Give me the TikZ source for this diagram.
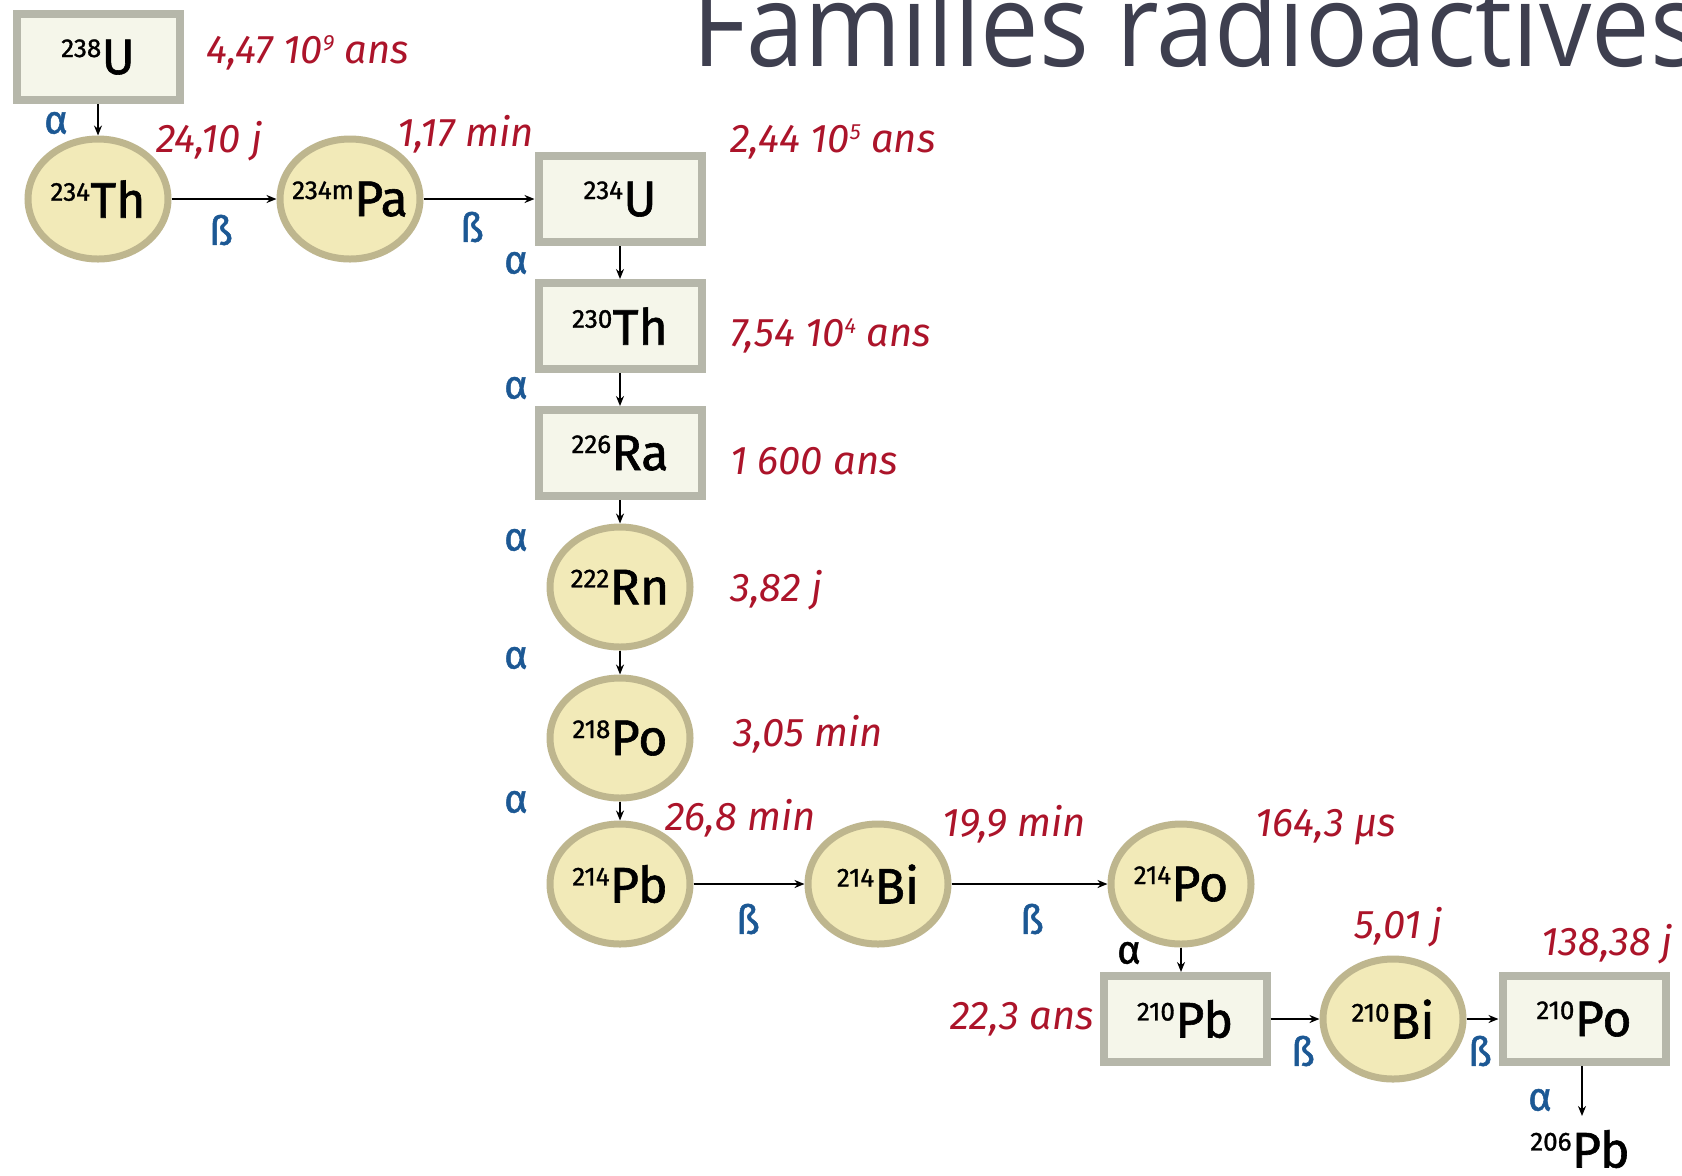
\documentclass[tikz,border=0pt]{standalone}
\usepackage{fontspec}
\setmainfont{Fira Sans}
\newfontfamily\symfont[FakeBold=1.2]{Fira Sans}
\newfontfamily\titlefont{Open Sans}
\usetikzlibrary{shapes.geometric,arrows.meta}
\definecolor{boxfill}{RGB}{245,246,234}
\definecolor{boxline}{RGB}{182,183,170}
\definecolor{cirfill}{RGB}{242,234,184}
\definecolor{cirline}{RGB}{190,182,142}
\definecolor{hlred}{RGB}{172,20,42}
\definecolor{decblue}{RGB}{28,88,148}
\definecolor{titlecol}{RGB}{62,63,79}
\newcommand\nuc[2]{\makebox[0pt][c]{\symfont\raisebox{8.5pt}{\fontsize{13}{13}\selectfont #1}\kern0.2pt{\fontsize{25}{25}\selectfont #2}}}
\newcommand\pw[1]{\raisebox{6.5pt}{\fontsize{11}{11}\selectfont #1}}
\begin{document}
\begin{tikzpicture}[x=0.5pt,y=-0.5pt,
  boxn/.style={rectangle, draw=boxline, line width=4pt, fill=boxfill,
    minimum width=81.5pt, minimum height=43pt, inner sep=0pt},
  cirn/.style={ellipse, draw=cirline, line width=3.5pt, fill=cirfill,
    minimum width=70pt, minimum height=60pt, inner sep=0pt},
  arr/.style={draw=black, line width=1pt, -{Stealth[length=5pt,width=4pt]}},
  hl/.style={anchor=base west, inner sep=0pt, text=hlred,
    font=\fontsize{20}{20}\selectfont\itshape},
  dec/.style={inner sep=0pt, text=decblue, font=\symfont\fontsize{20}{20}\selectfont}
]
\useasboundingbox (0,0) rectangle (1682,1175);
\fill[white] (0,0) rectangle (1682,1175);

% title
\node[anchor=base west, inner sep=0pt, text=titlecol] (title) at (692,66)
  {\scalebox{0.90}[1]{\titlefont\fontsize{58}{58}\selectfont Familles radioactives}};

% nuclides
\node[boxn] (U238) at (98,57) {\nuc{238}{U}};
\node[cirn] (Th234) at (98,199) {\nuc{234}{Th}};
\node[cirn] (Pa234) at (350,199) {\nuc{234m}{Pa}};
\node[boxn] (U234) at (620,199) {\nuc{234}{U}};
\node[boxn] (Th230) at (620,326) {\nuc{230}{Th}};
\node[boxn] (Ra226) at (620,453) {\nuc{226}{Ra}};
\node[cirn] (Rn222) at (620,587) {\nuc{222}{Rn}};
\node[cirn] (Po218) at (620,738) {\nuc{218}{Po}};
\node[cirn] (Pb214) at (620,884) {\nuc{214}{Pb}};
\node[cirn] (Bi214) at (878,884) {\nuc{214}{Bi}};
\node[cirn] (Po214) at (1181,884) {\nuc{214}{Po}};
\node[boxn] (Pb210) at (1185,1019) {\nuc{210}{Pb}};
\node[cirn] (Bi210) at (1393,1019) {\nuc{210}{Bi}};
\node[boxn] (Po210) at (1584,1019) {\nuc{210}{Po}};
\node[inner sep=0pt, minimum width=45pt] (Pb206) at (1580,1149) {\nuc{206}{Pb}};
\coordinate (end206) at (1582,1116);

% connectors
\draw[arr] (U238) -- (Th234);
\draw[arr] (Th234) -- (Pa234);
\draw[arr] (Pa234) -- (U234);
\draw[arr] (U234) -- (Th230);
\draw[arr] (Th230) -- (Ra226);
\draw[arr] (Ra226) -- (Rn222);
\draw[arr] (Rn222) -- (Po218);
\draw[arr] (Po218) -- (Pb214);
\draw[arr] (Pb214) -- (Bi214);
\draw[arr] (Bi214) -- (Po214);
\draw[arr] (Po214.south) -- (Po214.south |- Pb210.north);
\draw[arr] (Pb210) -- (Bi210);
\draw[arr] (Bi210) -- (Po210);
\draw[arr] (Po210.south -| end206) -- (end206);

% decay labels
\node[dec] (a1) at (56,123) {α};
\node[dec] (b1) at (221,230) {ß};
\node[dec] (b2) at (472,227) {ß};
\node[dec] (a2) at (516,263) {α};
\node[dec] (a3) at (516,388) {α};
\node[dec] (a4) at (516,540) {α};
\node[dec] (a5) at (516,658) {α};
\node[dec] (a6) at (516,802) {α};
\node[dec] (b3) at (748,919) {ß};
\node[dec] (b4) at (1032,919) {ß};
\node[dec,text=black] (a7) at (1129,953) {α};
\node[dec] (b5) at (1303,1051) {ß};
\node[dec] (b6) at (1480,1051) {ß};
\node[dec] (a8) at (1540,1100) {α};

% half-lives
\node[hl] (h1) at (206,63) {4,47 10\pw{9} ans};
\node[hl] (h2) at (156,152) {24,10 j};
\node[hl] (h3) at (397,146) {1,17 min};
\node[hl] (h4) at (730,152) {2,44 10\pw{5} ans};
\node[hl] (h5) at (730,346) {7,54 10\pw{4} ans};
\node[hl] (h6) at (730,474) {1 600 ans};
\node[hl] (h7) at (730,601) {3,82 j};
\node[hl] (h8) at (733,746) {3,05 min};
\node[hl] (h9) at (665,830) {26,8 min};
\node[hl] (h10) at (942,836) {19,9 min};
\node[hl] (h11) at (1255,836) {164,3 µs};
\node[hl] (h12) at (950,1029) {22,3 ans};
\node[hl] (h13) at (1354,938) {5,01 j};
\node[hl] (h14) at (1541,955) {138,38 j};
\end{tikzpicture}
\end{document}
